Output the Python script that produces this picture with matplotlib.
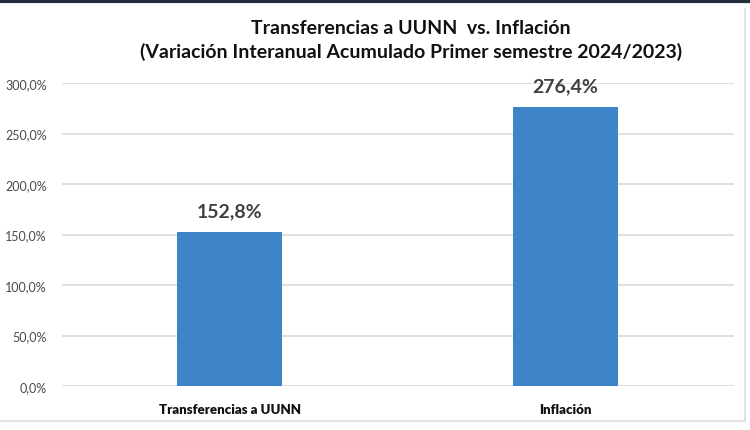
import matplotlib
matplotlib.use("Agg")
import matplotlib.pyplot as plt
from matplotlib.lines import Line2D

categorias = ["Transferencias a UUNN", "Inflación"]
valores = [152.8, 276.4]
etiquetas = ["152,8%", "276,4%"]
ticks_y = [0, 50, 100, 150, 200, 250, 300]
ticks_y_txt = ["0,0%", "50,0%", "100,0%", "150,0%", "200,0%", "250,0%", "300,0%"]

plt.rcParams['font.family'] = ['Lato', 'DejaVu Sans']

fig = plt.figure(figsize=(7.5, 4.31), dpi=100)
ax = fig.add_axes([62 / 750, 44 / 431, 671.5 / 750, 303 / 431])

x = list(range(len(categorias)))
ax.bar(x, valores, width=0.3125, color="#3d85c8", zorder=3)

for xi, v, t in zip(x, valores, etiquetas):
    ax.annotate(t, (xi, v), xytext=(0, 9), textcoords="offset points",
                ha="center", va="bottom", fontsize=14, fontweight="bold", color="#404040")

ax.set_xlim(-0.5, 1.5)
ax.set_ylim(0, 300)
ax.set_yticks(ticks_y)
ax.set_yticklabels(ticks_y_txt, fontsize=9, color="#4a4a4a")
ax.set_xticks(x)
ax.set_xticklabels(categorias, fontsize=9.5, fontweight="heavy", color="#111111")
ax.tick_params(axis="both", length=0)
ax.tick_params(axis="y", pad=11)
ax.tick_params(axis="x", pad=12)
ax.grid(axis="y", color="#d9d9d9", linewidth=1.2, zorder=0)
for s in ax.spines.values():
    s.set_visible(False)

fig.text(411 / 750, 1 - 34 / 431, "Transferencias a UUNN  vs. Inflación", ha="center", va="baseline",
         fontsize=14, fontweight="bold", color="#111111")
fig.text(411 / 750, 1 - 58 / 431, "(Variación Interanual Acumulado Primer semestre 2024/2023)", ha="center",
         va="baseline", fontsize=14, fontweight="bold", color="#111111")

# marco de la imagen
fig.add_artist(Line2D([0, 1], [1 - 1.5 / 431, 1 - 1.5 / 431], color="#1f2d3d", linewidth=3))
fig.add_artist(Line2D([0, 745 / 750], [1 - 422 / 431, 1 - 422 / 431], color="#e3e3e3", linewidth=1.5))
fig.add_artist(Line2D([745 / 750, 745 / 750], [1 - 422 / 431, 1 - 10 / 431], color="#e3e3e3", linewidth=1.5))

fig.savefig("out.png", dpi=100)
